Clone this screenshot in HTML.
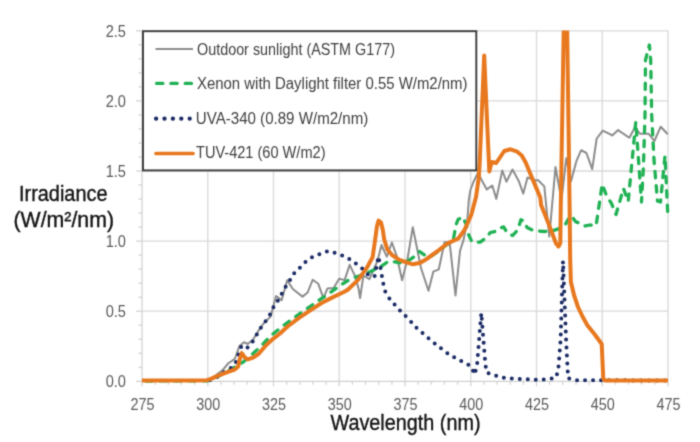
<!DOCTYPE html>
<html><head><meta charset="utf-8"><style>
html,body{margin:0;padding:0;background:#fff;width:700px;height:442px;overflow:hidden}
svg{display:block;will-change:transform}
text{font-family:"Liberation Sans",sans-serif}
</style></head><body>
<svg width="700" height="442" viewBox="0 0 700 442">
<defs><filter id="bl" x="0" y="0" width="700" height="442" filterUnits="userSpaceOnUse" color-interpolation-filters="sRGB"><feConvolveMatrix order="3" kernelMatrix="0.0276 0.111 0.0276 0.111 0.446 0.111 0.0276 0.111 0.0276" edgeMode="duplicate" preserveAlpha="true"/></filter><clipPath id="pc"><rect x="100" y="30.6" width="600" height="400"/></clipPath></defs>
<g filter="url(#bl)">
<rect width="700" height="442" fill="#fff"/>
<g stroke="#d9d9d9" stroke-width="1.3" fill="none"><line x1="207.8" y1="30.5" x2="207.8" y2="381.3" /><line x1="273.5" y1="30.5" x2="273.5" y2="381.3" /><line x1="339.2" y1="30.5" x2="339.2" y2="381.3" /><line x1="405.0" y1="30.5" x2="405.0" y2="381.3" /><line x1="470.8" y1="30.5" x2="470.8" y2="381.3" /><line x1="536.5" y1="30.5" x2="536.5" y2="381.3" /><line x1="602.2" y1="30.5" x2="602.2" y2="381.3" /><line x1="668.0" y1="30.5" x2="668.0" y2="381.3" /><line x1="142.0" y1="311.2" x2="668" y2="311.2" /><line x1="142.0" y1="241.1" x2="668" y2="241.1" /><line x1="142.0" y1="171.0" x2="668" y2="171.0" /><line x1="142.0" y1="100.9" x2="668" y2="100.9" /><line x1="142.0" y1="30.8" x2="668" y2="30.8" /></g>
<g stroke="#d0d0d0" stroke-width="1.2"><line x1="136.0" y1="381.3" x2="142.0" y2="381.3" /><line x1="138.5" y1="367.3" x2="142.0" y2="367.3" /><line x1="138.5" y1="353.3" x2="142.0" y2="353.3" /><line x1="138.5" y1="339.2" x2="142.0" y2="339.2" /><line x1="138.5" y1="325.2" x2="142.0" y2="325.2" /><line x1="136.0" y1="311.2" x2="142.0" y2="311.2" /><line x1="138.5" y1="297.2" x2="142.0" y2="297.2" /><line x1="138.5" y1="283.2" x2="142.0" y2="283.2" /><line x1="138.5" y1="269.1" x2="142.0" y2="269.1" /><line x1="138.5" y1="255.1" x2="142.0" y2="255.1" /><line x1="136.0" y1="241.1" x2="142.0" y2="241.1" /><line x1="138.5" y1="227.1" x2="142.0" y2="227.1" /><line x1="138.5" y1="213.1" x2="142.0" y2="213.1" /><line x1="138.5" y1="199.0" x2="142.0" y2="199.0" /><line x1="138.5" y1="185.0" x2="142.0" y2="185.0" /><line x1="136.0" y1="171.0" x2="142.0" y2="171.0" /><line x1="138.5" y1="157.0" x2="142.0" y2="157.0" /><line x1="138.5" y1="143.0" x2="142.0" y2="143.0" /><line x1="138.5" y1="128.9" x2="142.0" y2="128.9" /><line x1="138.5" y1="114.9" x2="142.0" y2="114.9" /><line x1="136.0" y1="100.9" x2="142.0" y2="100.9" /><line x1="138.5" y1="86.9" x2="142.0" y2="86.9" /><line x1="138.5" y1="72.9" x2="142.0" y2="72.9" /><line x1="138.5" y1="58.8" x2="142.0" y2="58.8" /><line x1="138.5" y1="44.8" x2="142.0" y2="44.8" /><line x1="136.0" y1="30.8" x2="142.0" y2="30.8" /><line x1="142.0" y1="381.3" x2="142.0" y2="386.3" /><line x1="155.2" y1="381.3" x2="155.2" y2="384.8" /><line x1="168.3" y1="381.3" x2="168.3" y2="384.8" /><line x1="181.4" y1="381.3" x2="181.4" y2="384.8" /><line x1="194.6" y1="381.3" x2="194.6" y2="384.8" /><line x1="207.8" y1="381.3" x2="207.8" y2="386.3" /><line x1="220.9" y1="381.3" x2="220.9" y2="384.8" /><line x1="234.1" y1="381.3" x2="234.1" y2="384.8" /><line x1="247.2" y1="381.3" x2="247.2" y2="384.8" /><line x1="260.4" y1="381.3" x2="260.4" y2="384.8" /><line x1="273.5" y1="381.3" x2="273.5" y2="386.3" /><line x1="286.6" y1="381.3" x2="286.6" y2="384.8" /><line x1="299.8" y1="381.3" x2="299.8" y2="384.8" /><line x1="312.9" y1="381.3" x2="312.9" y2="384.8" /><line x1="326.1" y1="381.3" x2="326.1" y2="384.8" /><line x1="339.2" y1="381.3" x2="339.2" y2="386.3" /><line x1="352.4" y1="381.3" x2="352.4" y2="384.8" /><line x1="365.5" y1="381.3" x2="365.5" y2="384.8" /><line x1="378.7" y1="381.3" x2="378.7" y2="384.8" /><line x1="391.9" y1="381.3" x2="391.9" y2="384.8" /><line x1="405.0" y1="381.3" x2="405.0" y2="386.3" /><line x1="418.1" y1="381.3" x2="418.1" y2="384.8" /><line x1="431.3" y1="381.3" x2="431.3" y2="384.8" /><line x1="444.4" y1="381.3" x2="444.4" y2="384.8" /><line x1="457.6" y1="381.3" x2="457.6" y2="384.8" /><line x1="470.8" y1="381.3" x2="470.8" y2="386.3" /><line x1="483.9" y1="381.3" x2="483.9" y2="384.8" /><line x1="497.1" y1="381.3" x2="497.1" y2="384.8" /><line x1="510.2" y1="381.3" x2="510.2" y2="384.8" /><line x1="523.3" y1="381.3" x2="523.3" y2="384.8" /><line x1="536.5" y1="381.3" x2="536.5" y2="386.3" /><line x1="549.6" y1="381.3" x2="549.6" y2="384.8" /><line x1="562.8" y1="381.3" x2="562.8" y2="384.8" /><line x1="576.0" y1="381.3" x2="576.0" y2="384.8" /><line x1="589.1" y1="381.3" x2="589.1" y2="384.8" /><line x1="602.2" y1="381.3" x2="602.2" y2="386.3" /><line x1="615.4" y1="381.3" x2="615.4" y2="384.8" /><line x1="628.5" y1="381.3" x2="628.5" y2="384.8" /><line x1="641.7" y1="381.3" x2="641.7" y2="384.8" /><line x1="654.9" y1="381.3" x2="654.9" y2="384.8" /><line x1="668.0" y1="381.3" x2="668.0" y2="386.3" />
<line x1="142.0" y1="30.5" x2="142.0" y2="381.3"/><line x1="142.0" y1="381.3" x2="668" y2="381.3"/></g>
<g fill="#595959" font-size="16"><text x="126" y="387.3" text-anchor="end" textLength="20.3" lengthAdjust="spacingAndGlyphs">0.0</text><text x="126" y="317.2" text-anchor="end" textLength="20.3" lengthAdjust="spacingAndGlyphs">0.5</text><text x="126" y="247.1" text-anchor="end" textLength="20.3" lengthAdjust="spacingAndGlyphs">1.0</text><text x="126" y="177.0" text-anchor="end" textLength="20.3" lengthAdjust="spacingAndGlyphs">1.5</text><text x="126" y="106.9" text-anchor="end" textLength="20.3" lengthAdjust="spacingAndGlyphs">2.0</text><text x="126" y="36.8" text-anchor="end" textLength="20.3" lengthAdjust="spacingAndGlyphs">2.5</text><text x="142.5" y="409.6" text-anchor="middle" textLength="24" lengthAdjust="spacingAndGlyphs">275</text><text x="208.2" y="409.6" text-anchor="middle" textLength="24" lengthAdjust="spacingAndGlyphs">300</text><text x="274.0" y="409.6" text-anchor="middle" textLength="24" lengthAdjust="spacingAndGlyphs">325</text><text x="339.8" y="409.6" text-anchor="middle" textLength="24" lengthAdjust="spacingAndGlyphs">350</text><text x="405.5" y="409.6" text-anchor="middle" textLength="24" lengthAdjust="spacingAndGlyphs">375</text><text x="471.2" y="409.6" text-anchor="middle" textLength="24" lengthAdjust="spacingAndGlyphs">400</text><text x="537.0" y="409.6" text-anchor="middle" textLength="24" lengthAdjust="spacingAndGlyphs">425</text><text x="602.8" y="409.6" text-anchor="middle" textLength="24" lengthAdjust="spacingAndGlyphs">450</text><text x="668.5" y="409.6" text-anchor="middle" textLength="24" lengthAdjust="spacingAndGlyphs">475</text></g>
<text x="19" y="201.4" font-size="21.5" fill="#111" stroke="#111" stroke-width="0.35" textLength="88.5" lengthAdjust="spacingAndGlyphs">Irradiance</text>
<text x="13.5" y="227.1" font-size="21.2" fill="#111" stroke="#111" stroke-width="0.35" textLength="100.5" lengthAdjust="spacingAndGlyphs">(W/m²/nm)</text>
<text x="330.5" y="429.6" font-size="21.5" fill="#111" stroke="#111" stroke-width="0.35" textLength="150" lengthAdjust="spacingAndGlyphs">Wavelength (nm)</text>
<g clip-path="url(#pc)" fill="none" stroke-linejoin="round">
<polyline points="142,381 208,380.5 215.4,375.6 222.4,370.4 228.6,363 231.7,361.1 235,358.5 239.5,345.9 244,342.2 247.7,344 253.1,339.5 258.6,330.4 263.1,324 268.5,318.6 270.6,316.5 276.1,296.1 281.7,300.1 287.2,280.3 292.8,289 302.5,296.6 307.6,292.5 312.7,279.8 318.3,283.8 323.4,298.1 327.5,288.4 333.6,287.9 339.2,278.7 344.6,280.1 349.7,264.9 355.3,276.6 358.8,289.8 360.1,298.1 363.4,275.5 369.5,279.1 374.6,267.4 377.5,260.9 381.5,245 386.8,256.7 391.9,242.5 396.9,256.7 402.1,280.2 407.5,259 412.8,227.2 421,268 428.5,290.7 433.3,271.7 438.8,269.3 444.5,242.2 449.6,242.2 455.5,295.5 460,251 463.6,239.6 467.3,220.5 468.8,200.2 470.4,190 473.3,182.3 478,172.8 482,180.7 486.8,189.4 492.3,185.5 496.3,198.9 502.3,170.5 506.4,181.7 512.5,169.5 518.6,180.7 523.3,193.6 527.5,177.5 535.2,180.3 538.2,180.3 544.3,186.4 549.3,236.6 555.5,167 561.5,200.2 566.3,158.2 571,181.2 576.6,160.6 581.2,150.2 586.4,153 592.2,169.2 596.7,138.5 602.8,130.6 612.3,135.4 618.1,130.1 629.3,137.8 634.9,127.6 640.1,133.8 648.8,133.8 654.4,141 660.7,126.7 667.8,134.3" stroke="#8c8c8c" stroke-width="2"/>
<polyline points="146,381 208,380.8 214,378.8 225,372.5 235,367 243.1,362.1 253.1,353.5 262.1,345 270.7,335.8 282,326.7 293.3,318.2 304.6,310.3 316,302.4 327.5,294.5 340.5,285.2 350.2,279.1 361.7,275 370.5,271.5 381.1,266.5 388.2,261.4 395.4,261.9 399.4,262.9 409.6,259.9 414.7,256.3 418.8,252.2 419.3,251.4 425.4,255.5 431.5,256 438.6,251 445.7,245.5 453.3,239.6 456.1,224.6 458.1,219.5 462.7,217 466.3,224.6 467.8,232.8 472,242.1 480.2,242.1 486.3,237.6 490.3,232.5 495.4,231.4 499.5,228.4 503.6,226.9 507.6,233.5 512.7,235.5 517.8,229.9 520.9,219.8 523.9,220.8 527,227.4 532.1,229.9 537,230.8 544.2,231.5 553.3,230.5 558.4,228.9 564.5,226.4 567.6,220.3 571.1,215.2 575.7,221.8 579.8,223.3 584.5,226.1 590,225 596.1,225.6 602.2,184.2 606.3,195.1 611.7,203.9 616,214.5 623.5,188.5 628.2,201.5 635.8,121.8 641.5,202 643.5,165 645,115 645.5,60 649.4,45 650.7,60 651.7,115 654,160 657.5,201 660.5,202 665,155.7 667.7,212" stroke="#1fb153" stroke-width="3.3" stroke-linecap="round" stroke-dasharray="6.3 8"/>
<polyline points="210,380 216,377.5 223.7,372.3 231.1,367.9 235.9,362.1 238.6,354 241.3,346.3 246.3,348.8 251.7,343.1 255.8,336.4 259.9,329 264.9,322.2 269.4,315.9 273,308 277.7,300.9 281.7,293.8 285.7,286.6 290.5,279.3 294.8,272.3 300.7,266.9 306.4,261 313.2,256.5 320.8,253.7 328.1,251.1 335.8,253.1 343.6,256 350.7,259.8 357.3,264.6 363.4,269.4 369.5,276 374.6,276.3 378.5,256.3 381.8,275.5 383.3,283.7 385.3,291.7 389.7,299 395.4,305.4 400.9,311.4 406.9,317.4 412.5,323.3 418,329.6 424.7,334.7 430.7,340.4 437.1,345.2 443.3,350.2 449.8,355 457.3,359.1 464.4,362.7 471.2,366.2 474.6,374.5 477,365.6 481.3,313 485.4,364.7 486.8,372.7 492.5,374.3 499.4,377 507.2,378.4 540.8,379.9 555.8,377.8 558.2,370.4 560.6,340 563,261 566.1,340 567.7,370.7 568.2,378.3 576.1,380.2 668,380.5" stroke="#1a2a64" stroke-width="4" stroke-linecap="round" stroke-dasharray="0 8"/>
<polyline points="142,380.6 195,380.5 206.9,380.2 210.9,378.9 218.8,375.4 226.7,372.3 234.7,369.5 238.2,366.5 239.5,360 241.8,353.1 245,357.6 247.7,359.4 253.1,357.6 258.5,354 265.8,345.5 272.1,339.6 280,333.5 287.6,326.5 299,317.8 310.3,310.3 321.6,303 330.5,298.4 344.8,291.5 348.1,289.5 358.3,279.6 366.5,268.4 372.6,257.2 375.1,240 377,226 378.6,220.6 381,222.5 382.8,230 384.2,239.4 387.2,249.2 392.3,255.3 399.4,259.9 405.5,262 413.1,264.3 420.3,262.8 425.4,259.8 431.5,255.5 438.6,250.4 445.7,244.8 449.8,242.3 458.3,238.5 464.5,230 471.3,214.8 476,197.1 478.7,178.1 479.6,165 484.2,55.5 489.3,171.5 491.6,162 496.2,163 504.3,151 510.5,149.3 516.6,151.3 521.7,155.5 525.7,162.5 529.8,172.6 535.2,185.4 540.3,197.6 541.1,205 547.2,220.3 552.3,233.5 556,243.5 558.5,246.5 560.3,243 560.8,205 565.6,-85 569.6,205 570.2,260 570.9,282 574,295 578,307 582.5,316.5 587.5,325.5 594,333.5 601.7,344 603.3,379 605,380.4 668,380.4" stroke="#e8781e" stroke-width="4"/>
</g>
<rect x="143" y="31.2" width="333.3" height="139.2" fill="#fff" stroke="#3a3a3a" stroke-width="1.9"/>
<line x1="155.5" y1="49" x2="193" y2="49" stroke="#8c8c8c" stroke-width="1.8"/>
<line x1="156.6" y1="83.4" x2="193" y2="83.4" stroke="#1fb153" stroke-width="3.3" stroke-linecap="round" stroke-dasharray="6.3 8"/>
<line x1="156.1" y1="118.7" x2="190" y2="118.7" stroke="#1a2a64" stroke-width="4.3" stroke-linecap="round" stroke-dasharray="0 8.4"/>
<line x1="156" y1="153.5" x2="193" y2="153.5" stroke="#e8781e" stroke-width="3.7" stroke-linecap="round"/>
<g fill="#404040" font-size="16">
<text x="197" y="54.5" textLength="198" lengthAdjust="spacingAndGlyphs">Outdoor sunlight (ASTM G177)</text>
<text x="197" y="89" textLength="270.5" lengthAdjust="spacingAndGlyphs">Xenon with Daylight filter 0.55 W/m2/nm)</text>
<text x="195.8" y="123.5" textLength="172.5" lengthAdjust="spacingAndGlyphs">UVA-340 (0.89 W/m2/nm)</text>
<text x="196" y="158" textLength="129.5" lengthAdjust="spacingAndGlyphs">TUV-421 (60 W/m2)</text>
</g>
</g>
</svg>
</body></html>
